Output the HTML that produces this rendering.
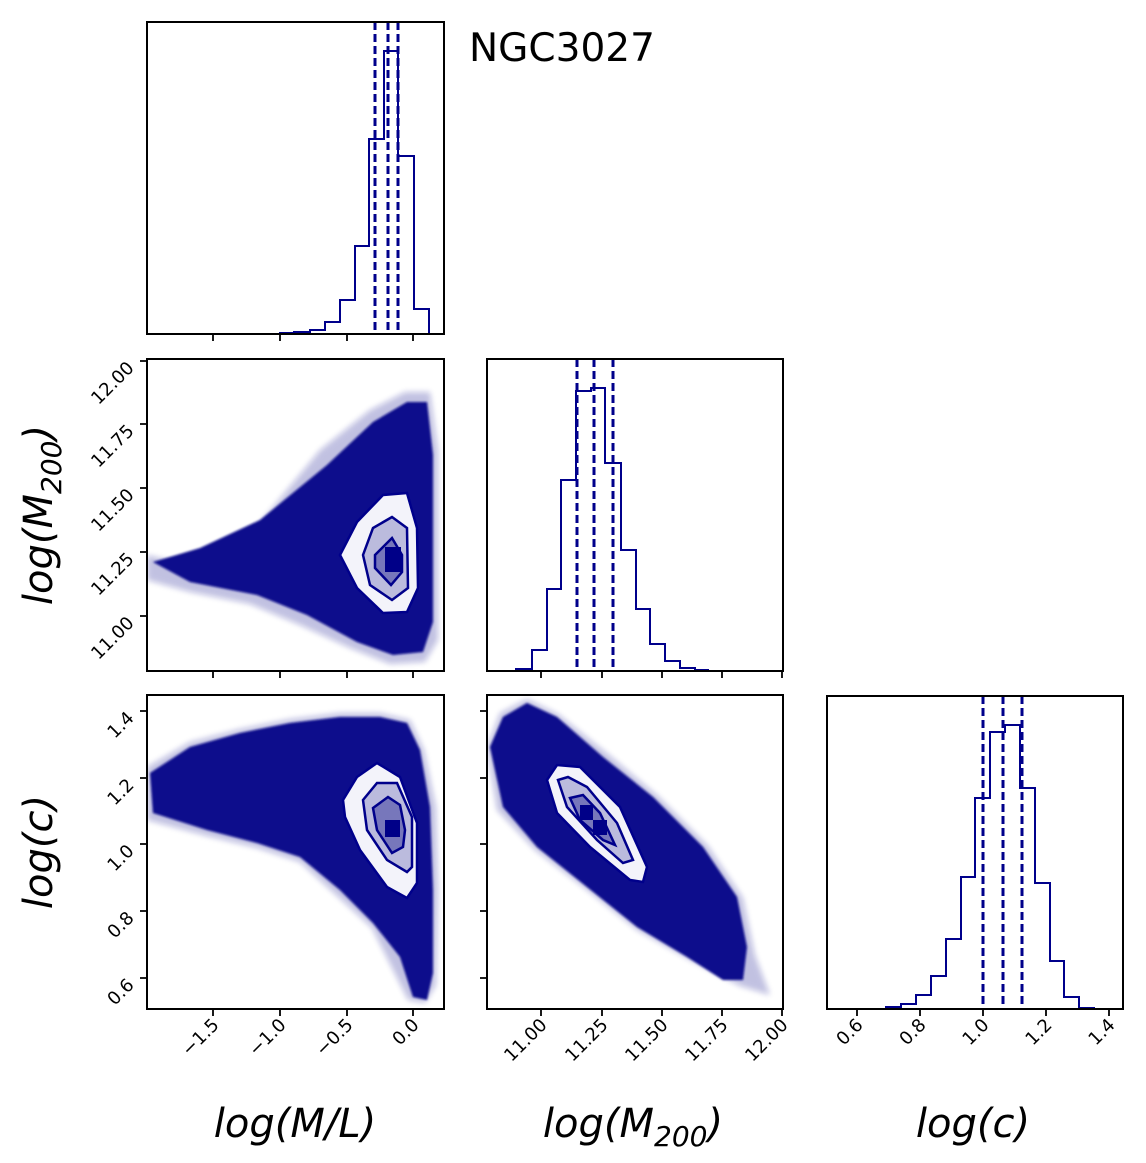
<!DOCTYPE html>
<html><head><meta charset="utf-8"><style>
html,body{margin:0;padding:0;background:#fff;}
svg{display:block;}
text{font-family:"DejaVu Sans","Liberation Sans",sans-serif;fill:#000;}
</style></head><body>
<svg width="1146" height="1163" viewBox="0 0 1146 1163" xmlns="http://www.w3.org/2000/svg">
<defs>
<filter id="b1" x="-20%" y="-20%" width="140%" height="140%"><feGaussianBlur stdDeviation="1"/></filter>
<filter id="b2" x="-20%" y="-20%" width="140%" height="140%"><feGaussianBlur stdDeviation="3"/></filter>
<clipPath id="c2"><rect x="147" y="359" width="297" height="312"/></clipPath>
<clipPath id="c4"><rect x="147" y="695" width="297" height="314"/></clipPath>
<clipPath id="c5"><rect x="487" y="695" width="296" height="314"/></clipPath>
</defs>
<g fill="none" stroke="#00008b" stroke-width="2">
<path d="M280,334 V333 H294 V332 H310 V330 H325 V322 H340 V300 H355 V246 H369 V139 H384 V51 H398 V156 H414 V309 H429 V334"/>
<g stroke-dasharray="8,4" stroke-width="3"><path d="M375,22V334M388,22V334M398,22V334"/></g>
<path d="M516,671 V669 H532 V650 H547 V589 H561 V480 H576 V391 H591 V388 H605 V463 H621 V550 H636 V609 H650 V644 H665 V661 H680 V668 H695 V670 H709"/>
<g stroke-dasharray="8,4" stroke-width="3"><path d="M577,359V671M594,359V671M613,359V671"/></g>
<path d="M886,1009 V1007 H901 V1004 H916 V995 H931 V976 H946 V939 H961 V877 H975 V798 H990 V732 H1005 V725 H1020 V788 H1035 V883 H1050 V961 H1064 V997 H1079 V1008 H1095"/>
<g stroke-dasharray="8,4" stroke-width="3"><path d="M983,696V1009M1003,696V1009M1022,696V1009"/></g>
</g>

<g clip-path="url(#c2)">
<polygon fill="#0a0a8c" opacity="0.25" filter="url(#b2)" points="147,555 190,565 250,535 320,450 370,410 405,392 430,392 438,450 438,640 425,662 390,664 350,648 300,625 250,604 190,592 147,580"/>
<polygon fill="#0a0a8c" filter="url(#b1)" points="153,562 190,582 257,595 307,615 357,642 393,655 423,652 433,622 433,455 427,402 407,402 373,422 327,465 260,520 200,548"/>
<polygon fill="#f3f3fa" stroke="#00008b" stroke-width="2.5" points="340,555 357,522 383,495 407,493 417,528 418,588 407,612 383,613 357,588"/>
<polygon fill="#bbbbdd" stroke="#00008b" stroke-width="2.5" points="363,555 373,528 392,517 407,528 408,588 392,600 370,585"/>
<polygon fill="#7777bb" stroke="#00008b" stroke-width="2.5" points="375,555 392,538 402,555 402,572 391,585 375,568"/>
<rect x="385" y="547" width="16" height="25" fill="#000088"/>
</g>

<g clip-path="url(#c4)">
<polygon fill="#0a0a8c" opacity="0.25" filter="url(#b2)" points="147,767 190,742 240,729 290,719 340,713 380,713 410,720 424,750 436,807 438,890 436,985 425,1003 408,1000 372,928 300,862 257,848 207,836 147,820"/>
<polygon fill="#0a0a8c" filter="url(#b1)" points="150,773 190,747 240,733 290,723 340,717 380,717 407,723 420,750 430,807 433,890 433,973 427,1000 413,997 400,957 373,923 340,890 300,857 257,843 207,830 153,813"/>
<polygon fill="#f3f3fa" stroke="#00008b" stroke-width="2.5" points="343,800 357,777 377,763 400,777 417,823 417,883 407,898 387,887 360,850 345,817"/>
<polygon fill="#bbbbdd" stroke="#00008b" stroke-width="2.5" points="363,800 377,783 397,783 412,817 412,867 407,872 387,860 367,830"/>
<polygon fill="#7777bb" stroke="#00008b" stroke-width="2.5" points="373,808 388,797 400,805 405,830 403,847 392,853 377,830"/>
<rect x="385" y="820" width="15" height="17" fill="#000088"/>
</g>

<g clip-path="url(#c5)">
<polygon fill="#0a0a8c" opacity="0.25" filter="url(#b2)" points="487,747 500,713 527,699 558,714 608,754 658,796 708,846 743,898 755,955 770,995 740,986 690,960 637,930 587,890 535,850 497,810"/>
<polygon fill="#0a0a8c" filter="url(#b1)" points="490,747 503,717 527,703 557,717 603,757 653,797 703,847 737,897 747,947 743,980 723,980 687,957 637,927 587,887 537,847 503,807"/>
<polygon fill="#f3f3fa" stroke="#00008b" stroke-width="2.5" points="547,780 557,765 580,767 620,807 647,867 643,882 630,880 590,847 557,813"/>
<polygon fill="#bbbbdd" stroke="#00008b" stroke-width="2.5" points="558,780 568,777 587,787 617,823 633,860 623,863 597,840 567,807"/>
<polygon fill="#7777bb" stroke="#00008b" stroke-width="2.5" points="570,798 583,795 600,813 615,845 603,840 580,820"/>
<rect x="580" y="805" width="13" height="15" fill="#000088"/>
<rect x="593" y="820" width="14" height="15" fill="#000088"/>
</g>

<g fill="none" stroke="#000" stroke-width="2">
<rect x="147" y="22" width="297" height="312"/>
<rect x="147" y="359" width="297" height="312"/>
<rect x="487" y="359" width="296" height="312"/>
<rect x="147" y="695" width="297" height="314"/>
<rect x="487" y="695" width="296" height="314"/>
<rect x="827" y="696" width="296" height="313"/>
</g>
<g stroke="#000" stroke-width="1.8">
<path d="M213,334v7M280,334v7M347,334v7M413,334v7"/>
<path d="M213,671v7M280,671v7M347,671v7M413,671v7"/>
<path d="M213,1009v7M280,1009v7M347,1009v7M413,1009v7"/>
<path d="M541,671v7M602,671v7M662,671v7M722,671v7M782,671v7"/>
<path d="M541,1009v7M602,1009v7M662,1009v7M722,1009v7M782,1009v7"/>
<path d="M857,1009v7M920,1009v7M983,1009v7M1046,1009v7M1109,1009v7"/>
<path d="M147,361h-7M147,424h-7M147,488h-7M147,552h-7M147,616h-7"/>
<path d="M147,711h-7M147,778h-7M147,844h-7M147,911h-7M147,978h-7"/>
<path d="M487,711h-7M487,778h-7M487,844h-7M487,911h-7M487,978h-7"/>
</g>
<g font-size="18" text-anchor="end">
<text transform="translate(220,1026) rotate(-45)">−1.5</text>
<text transform="translate(287,1026) rotate(-45)">−1.0</text>
<text transform="translate(354,1026) rotate(-45)">−0.5</text>
<text transform="translate(420,1026) rotate(-45)">0.0</text>
<text transform="translate(548,1026) rotate(-45)">11.00</text>
<text transform="translate(609,1026) rotate(-45)">11.25</text>
<text transform="translate(669,1026) rotate(-45)">11.50</text>
<text transform="translate(729,1026) rotate(-45)">11.75</text>
<text transform="translate(789,1026) rotate(-45)">12.00</text>
<text transform="translate(864,1026) rotate(-45)">0.6</text>
<text transform="translate(927,1026) rotate(-45)">0.8</text>
<text transform="translate(990,1026) rotate(-45)">1.0</text>
<text transform="translate(1053,1026) rotate(-45)">1.2</text>
<text transform="translate(1116,1026) rotate(-45)">1.4</text>
<text transform="translate(135,369) rotate(-45)">12.00</text>
<text transform="translate(135,432) rotate(-45)">11.75</text>
<text transform="translate(135,496) rotate(-45)">11.50</text>
<text transform="translate(135,560) rotate(-45)">11.25</text>
<text transform="translate(135,624) rotate(-45)">11.00</text>
<text transform="translate(135,719) rotate(-45)">1.4</text>
<text transform="translate(135,786) rotate(-45)">1.2</text>
<text transform="translate(135,852) rotate(-45)">1.0</text>
<text transform="translate(135,919) rotate(-45)">0.8</text>
<text transform="translate(135,986) rotate(-45)">0.6</text>
</g>
<g font-size="40" font-style="italic" text-anchor="middle">
<text x="295" y="1137">log(M/L)</text>
<text x="633" y="1137">log(M<tspan font-size="28" dy="9">200</tspan><tspan dy="-9">)</tspan></text>
<text x="973" y="1137">log(c)</text>
<text transform="translate(52,515) rotate(-90)">log(M<tspan font-size="28" dy="9">200</tspan><tspan dy="-9">)</tspan></text>
<text transform="translate(52,852) rotate(-90)">log(c)</text>
</g>
<text x="469" y="61" font-size="39">NGC3027</text>
</svg>
</body></html>
